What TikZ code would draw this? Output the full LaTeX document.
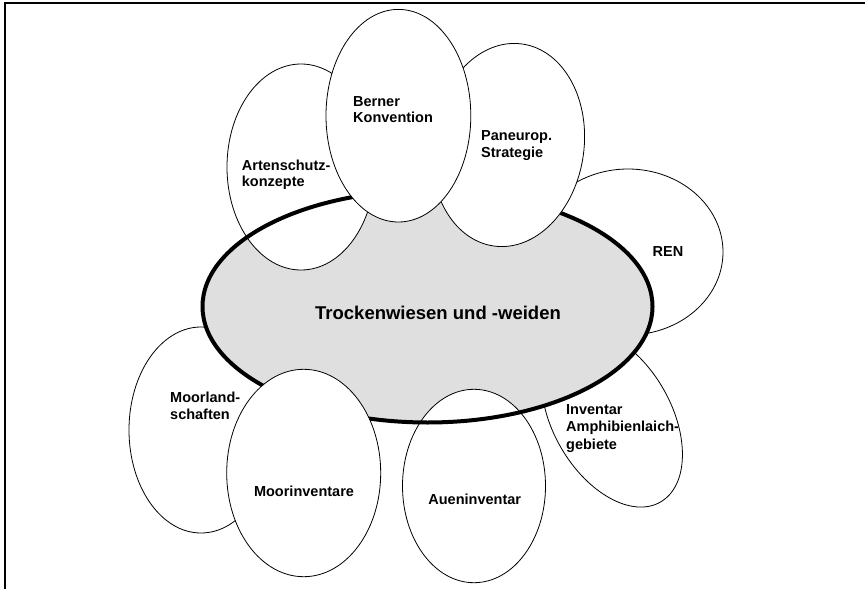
\documentclass[tikz,border=0pt]{standalone}
\usepackage{fontspec}
\setmainfont{Liberation Sans}
\begin{document}
\begin{tikzpicture}[x=1pt,y=-1pt,
  sat/.style={draw=black, line width=0.8pt, fill=white},
  lbl/.style={font=\bfseries\fontsize{14.5}{16.8}\selectfont, inner sep=0pt, align=left, anchor=base west},
  clbl/.style={font=\bfseries\fontsize{14.5}{16.8}\selectfont, inner sep=0pt, anchor=base},
]
\useasboundingbox (0,0) rectangle (865,589);
\fill[white] (0,0) rectangle (865,589);
% frame
\draw[line width=1.7pt] (4,3.2) -- (865,3.2);
\draw[line width=2pt] (5,2.4) -- (5,589);

% satellites below the central ellipse
\draw[sat] (628,252) ellipse [x radius=95, y radius=83];   % REN
\draw[sat] (201,430) ellipse [x radius=72, y radius=103];  % Moorlandschaften
\draw[sat, rotate around={30:(612,418)}] (612,418) ellipse [x radius=59, y radius=97]; % Inventar

% central fill
\fill[gray!25] (427.5,306.5) ellipse [x radius=225, y radius=116];

% satellites above fill, below border
\draw[sat] (301,167) ellipse [x radius=74, y radius=103];  % Artenschutz
\draw[sat] (474,486) ellipse [x radius=71.5, y radius=96.7]; % Aueninventar

% central border
\draw[line width=4pt] (427.5,306.5) ellipse [x radius=225, y radius=116];

% satellites on top
\draw[sat, rotate around={-8:(508,145)}] (508,145) ellipse [x radius=76, y radius=102]; % Paneurop
\draw[sat] (398.4,115.7) ellipse [x radius=72.4, y radius=106.3]; % Berner
\draw[sat] (303.7,473) ellipse [x radius=77, y radius=103.7]; % Moorinventare

% labels (base anchor = baseline of the last line)
\node[font=\bfseries\fontsize{18.5}{21}\selectfont, inner sep=0pt, anchor=base] (tmain) at (438,319) {Trockenwiesen und -weiden};
\node[lbl] (tarten) at (241.7,186.8) {Artenschutz-\\konzepte};
\node[lbl] (tberner) at (353,122.8) {Berner\\Konvention};
\node[lbl] (tpan) at (481,157.3) {Paneurop.\\Strategie};
\node[clbl] (tren) at (668,256) {REN};
\node[lbl, font=\bfseries\fontsize{14.5}{17.5}\selectfont] (tinv) at (566,449) {Inventar\\Amphibienlaich-\\gebiete};
\node[lbl] (tmoorl) at (170,419.5) {Moorland-\\schaften};
\node[clbl] (tmoori) at (304,496.7) {Moorinventare};
\node[clbl] (tauen) at (474.7,504) {Aueninventar};
\end{tikzpicture}
\end{document}
